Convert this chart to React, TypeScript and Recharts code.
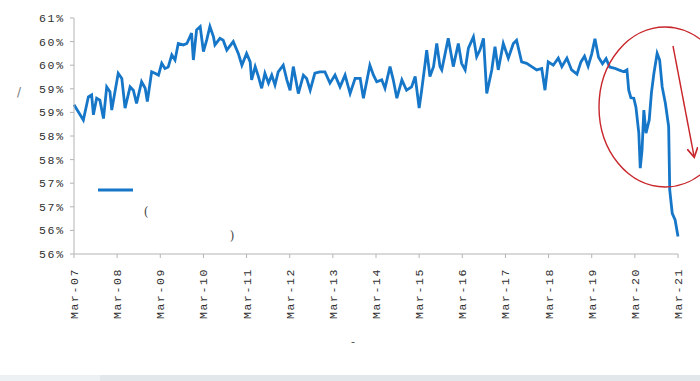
import React from 'react';
import { LineChart, Line, XAxis, YAxis } from 'recharts';

// months since Mar-07
const months = [
  0, 2.6, 4.0, 4.9, 5.4, 6.3, 7.2, 8.2, 9.1, 10.0,
  10.5, 12.3, 13.3, 14.2, 15.6, 16.5, 17.4, 18.8, 19.8, 20.4,
  21.6, 22.5, 23.5, 24.4, 25.3, 26.2, 27.2, 28.1, 29.0, 30.4,
  31.4, 32.7, 33.2, 34.1, 35.1, 36.0, 36.9, 37.8, 38.8, 39.2,
  40.6, 41.5, 42.5, 44.3, 45.7, 46.7, 48.0, 49.0, 49.4, 50.4,
  51.3, 52.2, 53.1, 54.1, 55.0, 55.9, 56.8, 58.2, 59.2, 60.1,
  61.0, 62.4, 63.8, 64.7, 65.7, 67.0, 68.4, 69.8, 71.2, 72.6,
  74.0, 75.4, 76.8, 78.2, 79.6, 80.5, 82.3, 83.3, 84.2, 85.6,
  86.5, 87.9, 88.8, 89.8, 91.2, 92.5, 93.9, 94.9, 96.0, 96.7,
  97.6, 98.1, 99.0, 100.0, 100.9, 101.8, 102.3, 104.1, 105.5, 106.9,
  107.8, 108.8, 109.7, 111.1, 112.0, 112.9, 113.9, 114.8, 116.2, 117.1,
  118.0, 119.4, 120.8, 122.2, 123.1, 124.5, 125.9, 127.3, 128.7, 130.1,
  131.0, 131.9, 133.3, 134.7, 135.7, 137.1, 138.4, 139.9, 141.0, 142.0,
  143.0, 144.0, 144.9, 145.9, 147.0, 148.0, 149.0, 150.2, 151.5, 152.9,
  153.8, 154.3, 154.9, 155.7, 156.3, 157.1, 157.5, 158.0, 158.5, 159.1,
  160.0, 160.6, 161.3, 162.2, 162.9, 163.6, 164.5, 165.4, 165.7, 166.4,
  167.2, 168.0,
];

const rates = [
  58.66, 58.34, 58.83, 58.87, 58.45, 58.80, 58.76, 58.37, 59.04, 58.94,
  58.55, 59.33, 59.22, 58.59, 59.04, 58.97, 58.69, 59.15, 59.01, 58.73,
  59.36, 59.33, 59.29, 59.54, 59.43, 59.46, 59.72, 59.61, 59.96, 59.93,
  59.96, 60.18, 59.61, 60.25, 60.32, 59.79, 60.03, 60.32, 60.10, 59.93,
  60.07, 60.03, 59.82, 60.00, 59.75, 59.50, 59.75, 59.57, 59.19, 59.47,
  59.26, 59.01, 59.33, 59.12, 59.29, 59.08, 59.36, 59.50, 59.19, 58.97,
  59.47, 58.90, 59.29, 59.22, 58.97, 59.33, 59.36, 59.36, 59.12, 59.29,
  59.04, 59.29, 58.90, 59.22, 59.22, 58.80, 59.50, 59.29, 59.15, 59.19,
  59.01, 59.47, 59.19, 58.80, 59.19, 58.97, 59.04, 59.26, 58.59, 58.97,
  59.50, 59.82, 59.26, 59.47, 59.96, 59.47, 59.40, 60.07, 59.47, 59.96,
  59.54, 59.40, 59.86, 60.10, 59.68, 59.82, 60.07, 58.90, 59.40, 59.89,
  59.40, 59.96, 59.65, 59.96, 60.03, 59.57, 59.54, 59.47, 59.40, 59.43,
  58.97, 59.57, 59.50, 59.65, 59.47, 59.65, 59.40, 59.31, 59.57, 59.69,
  59.48, 59.74, 60.06, 59.67, 59.53, 59.64, 59.46, 59.44, 59.40, 59.36,
  59.40, 58.97, 58.81, 58.80, 58.61, 58.06, 57.32, 57.70, 58.55, 58.06,
  58.34, 58.91, 59.33, 59.75, 59.61, 59.04, 58.69, 58.20, 56.86, 56.36,
  56.22, 55.87,
];

const xLabels = [
  'Mar-07', 'Mar-08', 'Mar-09', 'Mar-10', 'Mar-11', 'Mar-12', 'Mar-13', 'Mar-14',
  'Mar-15', 'Mar-16', 'Mar-17', 'Mar-18', 'Mar-19', 'Mar-20', 'Mar-21',
];
const yTicks = [55.5, 56, 56.5, 57, 57.5, 58, 58.5, 59, 59.5, 60, 60.5];

const data = months.map((m, i) => ({ m, rate: rates[i] }));
const xTicks = xLabels.map((_, i) => i * 12);

const BLUE = '#1676c8';
const RED = '#c8262b';
const AXIS = '#b4b4b4';
const TEXT = '#2e2e2e';
const FONT = '"Courier New", "Liberation Mono", monospace';

const XTick = (props: any) => {
  const { x, y, payload } = props;
  return (
    <text
      transform={`translate(${x},${y + 8}) rotate(-90)`}
      textAnchor="end"
      dy="0.35em"
      fontFamily={FONT}
      fontSize={11.5}
      letterSpacing={1.6}
      fill={TEXT}
    >
      {xLabels[Math.round(payload.value / 12)]}
    </text>
  );
};

const YTick = (props: any) => {
  const { x, y, payload } = props;
  return (
    <text
      x={x - 3}
      y={y}
      textAnchor="end"
      dy="0.35em"
      fontFamily={FONT}
      fontSize={11.5}
      letterSpacing={1.8}
      fill={TEXT}
    >
      {Math.round(payload.value)}%
    </text>
  );
};

export default function App() {
  return (
    <div style={{ position: 'absolute', left: 0, top: 0, width: 700, height: 381, background: '#fff' }}>
      <LineChart width={700} height={381} data={data} margin={{ top: 18, right: 22, left: 0, bottom: 57 }}>
        <XAxis
          dataKey="m"
          type="number"
          domain={[0, 168]}
          ticks={xTicks}
          tick={<XTick />}
          height={70}
          stroke={AXIS}
          tickSize={4}
          interval={0}
        />
        <YAxis
          type="number"
          domain={[55.5, 60.5]}
          ticks={yTicks}
          tick={<YTick />}
          width={74}
          stroke={AXIS}
          tickSize={4}
          interval={0}
        />
        <Line
          type="linear"
          dataKey="rate"
          stroke={BLUE}
          strokeWidth={2.8}
          dot={false}
          isAnimationActive={false}
        />
      </LineChart>

      <svg width={700} height={381} style={{ position: 'absolute', left: 0, top: 0, pointerEvents: 'none' }}>
        <defs>
          <marker id="arrowHead" markerWidth="8" markerHeight="8" refX="6" refY="4" orient="auto">
            <path d="M0,0 L7,4 L0,8" fill="none" stroke={RED} strokeWidth={1.2} />
          </marker>
        </defs>
        {/* leftover legend sample and clipped labels */}
        <line x1={98} y1={190} x2={133} y2={190} stroke={BLUE} strokeWidth={2.8} />
        <text x={146} y={216} fontFamily="'DejaVu Serif', serif" fontSize={12} fill="#444" textAnchor="middle">(</text>
        <text x={232} y={240} fontFamily="'DejaVu Serif', serif" fontSize={12} fill="#444" textAnchor="middle">)</text>
        <text x={19} y={96} fontFamily="'DejaVu Sans', sans-serif" fontSize={12} fill="#777" textAnchor="middle">/</text>
        <text x={353} y={345} fontFamily="'DejaVu Sans', sans-serif" fontSize={11} fill="#444" textAnchor="middle">-</text>
        {/* annotation */}
        <ellipse cx={665} cy={107} rx={66} ry={80} fill="none" stroke={RED} strokeWidth={1.4} />
        <line x1={673} y1={46} x2={694} y2={156} stroke={RED} strokeWidth={1.4} markerEnd="url(#arrowHead)" />
        {/* bottom band */}
        <rect x={0} y={375} width={700} height={6} fill="#e2e7eb" />
        <rect x={0} y={375} width={100} height={6} fill="#eef1f3" />
      </svg>
    </div>
  );
}
